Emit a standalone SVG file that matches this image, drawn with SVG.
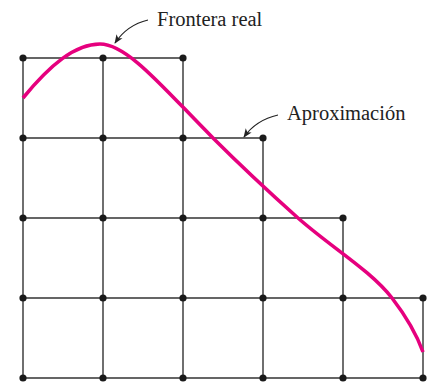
<svg xmlns="http://www.w3.org/2000/svg" width="427" height="382" viewBox="0 0 427 382">
<style>
.grid{stroke:#333;stroke-width:1.4;fill:none;stroke-linecap:square}
.dot{fill:#1a1a1a}
.curve{stroke:#E6007E;stroke-width:3.6;fill:none}
.lbl{font-family:"Liberation Serif","Times New Roman",serif;font-size:20.5px;fill:#222}
.lead{stroke:#222;stroke-width:1.1;fill:none}
</style>
<defs>
<marker id="ah" viewBox="0 0 10 10" refX="9" refY="5" markerWidth="9" markerHeight="9" markerUnits="userSpaceOnUse" orient="auto">
<path d="M0,1 L10,5 L0,9 L2.5,5 Z" fill="#222"/>
</marker>
<circle id="d" r="3.6" class="dot"/>
</defs>
<rect width="427" height="382" fill="#fff"/>
<g id="approximation-grid">
<path class="grid" d="M23,58H183M23,138H263M23,218H343M23,298H423M23,378H423M23,58V378M103,58V378M183,58V378M263,138V378M343,218V378M423,298V378"/>
<g>
<use href="#d" x="23" y="58"/><use href="#d" x="103" y="58"/><use href="#d" x="183" y="58"/>
<use href="#d" x="23" y="138"/><use href="#d" x="103" y="138"/><use href="#d" x="183" y="138"/><use href="#d" x="263" y="138"/>
<use href="#d" x="23" y="218"/><use href="#d" x="103" y="218"/><use href="#d" x="183" y="218"/><use href="#d" x="263" y="218"/><use href="#d" x="343" y="218"/>
<use href="#d" x="23" y="298"/><use href="#d" x="103" y="298"/><use href="#d" x="183" y="298"/><use href="#d" x="263" y="298"/><use href="#d" x="343" y="298"/><use href="#d" x="423" y="298"/>
<use href="#d" x="23" y="378"/><use href="#d" x="103" y="378"/><use href="#d" x="183" y="378"/><use href="#d" x="263" y="378"/><use href="#d" x="343" y="378"/><use href="#d" x="423" y="378"/>
</g>
</g>
<g id="real-boundary">
<path class="curve" d="M23,98 C50,65 75,44 100,44 C128,44 165,90 213,138 C240,165 270,193 298,218 C332,248 370,270 392,298 C402,311 415,330 423,352"/>
</g>
<g id="labels">
<text class="lbl" x="157" y="26">Frontera real</text>
<text class="lbl" x="287" y="120">Aproximación</text>
</g>
<g id="connectors">
<path class="lead" d="M148,20 Q127,25 115,43" marker-end="url(#ah)"/>
<path class="lead" d="M278,115 Q256,120 244,137" marker-end="url(#ah)"/>
</g>
</svg>
